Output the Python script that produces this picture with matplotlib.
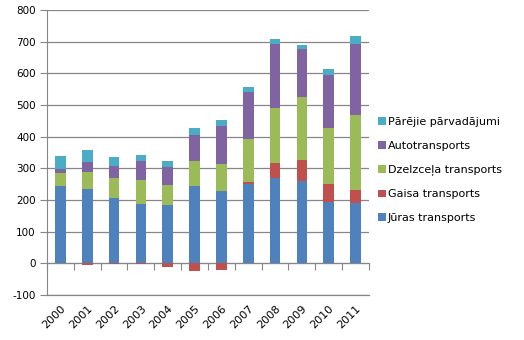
import matplotlib
matplotlib.use("Agg")
import matplotlib.pyplot as plt
import numpy as np

plt.rcParams["axes.unicode_minus"] = False

years = ["2000", "2001", "2002", "2003", "2004", "2005", "2006", "2007", "2008", "2009", "2010", "2011"]
juras = [243, 234, 205, 187, 184, 243, 227, 250, 268, 259, 193, 190]
gaisa = [0, -4, -3, -3, -13, -24, -20, 6, 48, 66, 57, 41]
dzelzcela = [42, 56, 63, 75, 62, 79, 86, 136, 174, 199, 176, 236]
auto = [14, 29, 38, 60, 57, 84, 120, 148, 202, 152, 168, 227]
parejie = [40, 38, 29, 20, 20, 20, 19, 16, 16, 13, 19, 23]

series = [
    ("Jūras transports", juras, "#4F81BD"),
    ("Gaisa transports", gaisa, "#C0504D"),
    ("Dzelzceļa transports", dzelzcela, "#9BBB59"),
    ("Autotransports", auto, "#8064A2"),
    ("Pārējie pārvadājumi", parejie, "#4BACC6"),
]

fig = plt.figure(figsize=(5.24, 3.40), dpi=100)
ax = fig.add_axes([47/524, 1 - 295/340, (369 - 47)/524, (295 - 10)/340])

x = np.arange(len(years))
pos_bottom = np.zeros(len(years))
neg_bottom = np.zeros(len(years))
handles = []
for name, vals, color in series:
    v = np.array(vals, dtype=float)
    bottom = np.where(v >= 0, pos_bottom, neg_bottom)
    b = ax.bar(x, v, width=0.4, bottom=bottom, color=color, label=name, zorder=3)
    handles.append(b)
    pos_bottom = pos_bottom + np.where(v >= 0, v, 0)
    neg_bottom = neg_bottom + np.where(v < 0, v, 0)

grid_c = "#868686"
ax.set_xlim(-0.5, len(years) - 0.5)
ax.set_ylim(-100, 800)
ax.set_yticks(np.arange(-100, 801, 100))
ax.yaxis.grid(True, color=grid_c, linewidth=0.9, zorder=0)
ax.set_axisbelow(True)
for s in ["top", "right"]:
    ax.spines[s].set_visible(False)
ax.spines["left"].set_color(grid_c)
ax.spines["bottom"].set_color(grid_c)
ax.spines["bottom"].set_linewidth(0.9)
ax.tick_params(axis="y", direction="out", length=5, color=grid_c, labelsize=7.5, pad=3)
ax.set_xticks(x)
ax.set_xticklabels(years, rotation=45, ha="right", rotation_mode="anchor", fontsize=8)
ax.tick_params(axis="x", length=0, pad=6)

# zero axis line with boundary ticks
sec = ax.secondary_xaxis(100/900)
sec.spines["bottom"].set_color(grid_c)
sec.set_xticks(np.arange(-0.5, len(years) + 0.5, 1.0))
sec.set_xticklabels([])
sec.tick_params(axis="x", direction="out", length=5, color=grid_c)

fig.legend(handles[::-1], [s[0] for s in series][::-1], loc="center left",
           bbox_to_anchor=(378/524, 1 - 170/340), frameon=False, fontsize=8,
           handlelength=0.7, handleheight=0.7, handletextpad=0.2,
           labelspacing=1.25, borderpad=0, borderaxespad=0)

fig.savefig("out.png", dpi=100)
